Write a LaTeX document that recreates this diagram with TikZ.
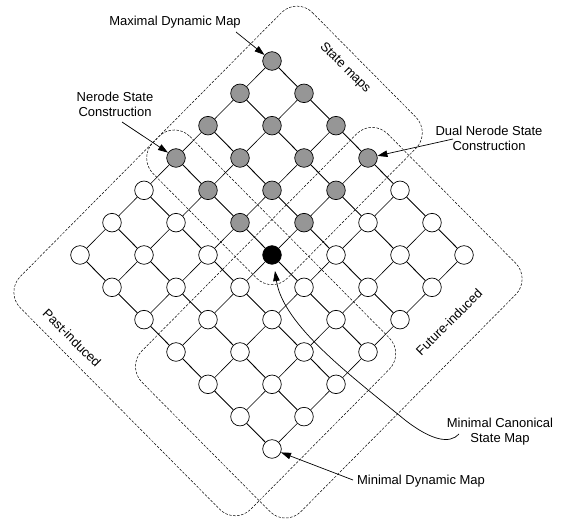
\documentclass[tikz,border=0pt]{standalone}
\usepackage{fontspec}
\setmainfont{Liberation Sans}
\usetikzlibrary{arrows.meta}
\definecolor{nodegray}{RGB}{150,150,150}
\begin{document}
\begin{tikzpicture}[x=1pt,y=-1pt,
  font=\fontsize{13}{15}\selectfont,
  vtx/.style={circle,draw,line width=0.7pt,minimum size=18.6pt,inner sep=0pt},
  vopen/.style={fill=white},
  vgray/.style={fill=nodegray},
  vblack/.style={fill=black},
  linkdown/.style={line width=0.9pt},
  linkup/.style={line width=0.6pt},
  region/.style={line width=0.5pt,dash pattern=on 2.5pt off 1.5pt,rounded corners=22pt},
  lbl/.style={inner sep=1pt,align=center},
  ptr/.style={line width=0.7pt,-{Triangle[length=10pt,width=6.5pt]}}
]
\useasboundingbox (0,0) rectangle (561,519);

% lattice frame: first axis runs down-right (j), second runs down-left (i)
\begin{scope}[shift={(272,61)},x={(32pt,-32.33pt)},y={(-32pt,-32.33pt)}]
  % dashed groupings
  \draw[region] (-0.6,-1.38) -- (3.6,-1.38) -- (3.6,3.6) -- (-0.6,3.6) -- cycle;
  \draw[region] (-0.6,2.45) -- (6.6,2.45) -- (6.6,7.75) -- (-0.6,7.75) -- cycle;
  \draw[region] (2.45,-0.68) -- (7.42,-0.68) -- (7.42,7.0) -- (2.45,7.0) -- cycle;

  % vertices
  \foreach \i in {0,...,6}{
    \foreach \j in {0,...,6}{
      \def\vst{vopen}
      \ifnum\i<4 \ifnum\j<4 \def\vst{vgray}\fi\fi
      \ifnum\i=3 \ifnum\j=3 \def\vst{vblack}\fi\fi
      \node[vtx,\vst] (n-\i-\j) at (\j,\i) {};
    }
  }
\end{scope}

% links between neighbouring vertices
\foreach \i in {0,...,6}{
  \foreach \j in {0,...,6}{
    \pgfmathtruncatemacro\ii{\i+1}
    \pgfmathtruncatemacro\jj{\j+1}
    \ifnum\j<6 \draw[linkdown] (n-\i-\j) -- (n-\i-\jj); \fi
    \ifnum\i<6 \draw[linkup] (n-\i-\j) -- (n-\ii-\j); \fi
  }
}

% region names
\node[lbl,rotate=-45] (tsm) at (345,68) {State maps};
\node[lbl,rotate=-45] (tpi) at (72,338) {Past-induced};
\node[lbl,rotate=45] (tfi) at (449,322) {Future-induced};

% callouts
\node[lbl] (tmax) at (175,22) {Maximal Dynamic Map};
\node[lbl] (tner) at (115,104) {Nerode State\\Construction};
\node[lbl] (tdual) at (489,138) {Dual Nerode State\\Construction};
\node[lbl] (tcan) at (500,432) {Minimal Canonical\\State Map};
\node[lbl] (tmin) at (421,481) {Minimal Dynamic Map};

\coordinate (amax) at (236,32);
\coordinate (aner) at (122,122);
\coordinate (adual) at (453,139);
\coordinate (amin) at (353,480);
\coordinate (acan) at (459,434);
\coordinate (acantip) at (275,271);

\draw[ptr] (amax) -- (n-0-0);
\draw[ptr] (aner) -- (n-3-0);
\draw[ptr] (adual) -- (n-0-3);
\draw[ptr] (amin) -- (n-6-6);
\draw[ptr] (acan) .. controls (450,444) and (432,441) .. (405,420)
  .. controls (350,375) and (283,325) .. (acantip);
\end{tikzpicture}
\end{document}
